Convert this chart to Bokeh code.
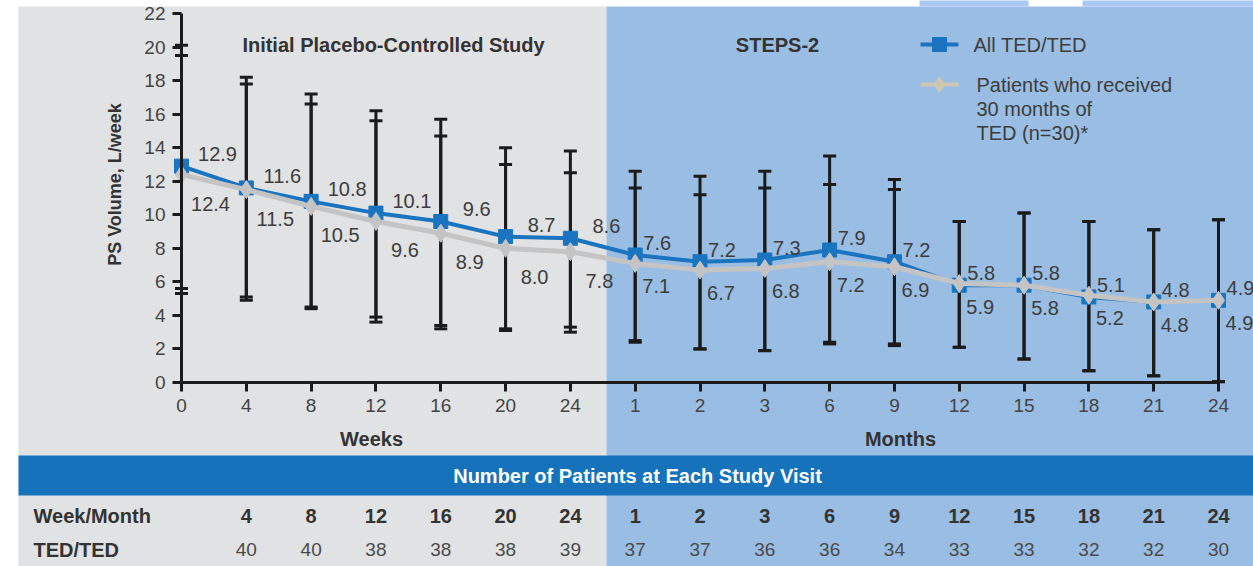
import math
from bokeh.plotting import figure
from bokeh.models import Range1d, LinearAxis, FixedTicker, ColumnDataSource
from bokeh.core.properties import value
from bokeh.embed import file_html
from bokeh.resources import INLINE

# ---------------- data ----------------
time_labels = ["0", "4", "8", "12", "16", "20", "24",
               "1", "2", "3", "6", "9", "12", "15", "18", "21", "24"]
n_weeks = 7  # first 7 visits are in weeks, the rest in months

all_ted_mean = [12.9, 11.6, 10.8, 10.1, 9.6, 8.7, 8.6, 7.6, 7.2, 7.3, 7.9, 7.2, 5.8, 5.8, 5.1, 4.8, 4.9]
all_ted_upper = [20.1, 18.2, 17.2, 16.2, 15.7, 14.0, 13.8, 12.6, 12.3, 12.6, 13.5, 12.1, 9.6, 10.1, 9.6, 9.1, 9.7]
all_ted_lower = [5.6, 5.1, 4.5, 3.9, 3.4, 3.2, 3.3, 2.4, 2.0, 1.9, 2.4, 2.2, 2.1, 1.4, 0.7, 0.4, 0.05]

n30_mean = [12.4, 11.5, 10.5, 9.6, 8.9, 8.0, 7.8, 7.1, 6.7, 6.8, 7.2, 6.9, 5.9, 5.8, 5.2, 4.8, 4.9]
n30_upper = [19.5, 17.8, 16.6, 15.6, 14.7, 13.0, 12.5, 11.6, 11.2, 11.6, 11.8, 11.5, 9.6, 10.1, 9.6, 9.1, 9.7]
n30_lower = [5.3, 4.9, 4.4, 3.6, 3.2, 3.1, 3.0, 2.5, 2.0, 1.9, 2.3, 2.3, 2.1, 1.4, 0.7, 0.4, 0.05]

y_ticks = list(range(0, 23, 2))
y_title = "PS Volume, L/week"

visit_labels = ["4", "8", "12", "16", "20", "24", "1", "2", "3", "6", "9", "12", "15", "18", "21", "24"]
patients_ted = [40, 40, 38, 38, 38, 39, 37, 37, 36, 36, 34, 33, 33, 32, 32, 30]

series_names = ["All TED/TED", "Patients who received\n30 months of\nTED (n=30)*"]

# ---------------- layout helpers (page pixel -> data) ----------------
FONT = "Liberation Sans"
W, H = 1253, 566
KX = (1218 - 181) / 16.0
X0 = 181.0
KY = 369 / 22.0
Y0 = 382.0


def dx(px):
    return (px - X0) / KX


def dy(py):
    return (Y0 - py) / KY


GREY_BG = "#e1e2e4"
BLUE_BG = "#99bde3"
BANNER = "#1572bb"
BLUE = "#1b74bf"
LGREY = "#c4c4c4"
AX = "#1b1b1b"
TXT = "#3d3d3d"

x = list(range(len(time_labels)))

p = figure(width=W, height=H,
           x_range=Range1d(dx(0), dx(W)), y_range=Range1d(dy(H), dy(0)),
           output_backend="svg", toolbar_location=None, min_border=0,
           x_axis_type=None, y_axis_type=None)
p.outline_line_color = None
p.background_fill_color = "white"
p.border_fill_color = "white"

# panels
split = dx(606)
p.quad(left=[dx(18)], right=[split], top=[dy(6)], bottom=[dy(H + 20)],
       fill_color=GREY_BG, line_color=None)
p.quad(left=[split], right=[dx(W + 20)], top=[dy(6)], bottom=[dy(H + 20)],
       fill_color=BLUE_BG, line_color=None)
p.quad(left=[dx(919), dx(1082)], right=[dx(1028), dx(W + 20)], top=[dy(-5)] * 2,
       bottom=[dy(6)] * 2, fill_color="#a9c9f2", line_color=None)

# axes
yax = LinearAxis(fixed_location=0, bounds=(0, 22), ticker=FixedTicker(ticks=y_ticks))
xax = LinearAxis(fixed_location=0, bounds=(0, len(x) - 1), ticker=FixedTicker(ticks=x),
                 major_label_overrides={i: lbl for i, lbl in enumerate(time_labels)})
for ax in (yax, xax):
    ax.axis_line_width = 3
    ax.axis_line_color = AX
    ax.major_tick_line_width = 3
    ax.major_tick_line_color = AX
    ax.major_tick_in = 0
    ax.major_tick_out = 9
    ax.minor_tick_line_color = None
    ax.major_label_text_font = FONT
    ax.major_label_text_font_size = "19px"
    ax.major_label_text_color = "#444444"
    ax.major_label_standoff = 7
p.add_layout(yax, "left")
p.add_layout(xax, "below")

# y-axis title (rotated)
p.text(x=[dx(114)], y=[dy(184)], text=[y_title], angle=math.pi / 2,
       text_align="center", text_baseline="middle", text_font=value(FONT),
       text_font_size="18px", text_font_style="bold", text_color="#333333")

# error bars
for up, lo in ((all_ted_upper, all_ted_lower), (n30_upper, n30_lower)):
    p.segment(x0=x, y0=lo, x1=x, y1=up, line_width=3, line_color=AX)
    p.scatter(x=x + x, y=up + lo, marker="dash", size=13, line_width=3, line_color=AX)

# series
p.line(x, all_ted_mean, line_color=BLUE, line_width=4)
p.scatter(x, all_ted_mean, marker="square", size=14, fill_color=BLUE, line_color=BLUE)
p.line(x, n30_mean, line_color=LGREY, line_width=5)
p.scatter(x, n30_mean, marker="diamond", size=18, fill_color=LGREY, line_color=LGREY)

# value labels
in_weeks = [i < n_weeks for i in x]
src_a = ColumnDataSource(dict(
    x=x, y=all_ted_mean, t=[f"{v:.1f}" for v in all_ted_mean],
    xo=[36 if w else 22 for w in in_weeks], yo=[-12] * len(x)))
src_b = ColumnDataSource(dict(
    x=x, y=n30_mean, t=[f"{v:.1f}" for v in n30_mean],
    xo=[29 if w else 21 for w in in_weeks], yo=[29 if w else 23 for w in in_weeks]))
for src in (src_a, src_b):
    p.text(x="x", y="y", text="t", x_offset="xo", y_offset="yo", source=src,
           text_align="center", text_baseline="middle",
           text_font=value(FONT), text_font_size="20px", text_color=TXT)

# panel titles and axis captions
p.text(x=[dx(393), dx(777)], y=[dy(44), dy(44)],
       text=["Initial Placebo-Controlled Study", "STEPS-2"],
       text_align="center", text_baseline="middle", text_font=value(FONT),
       text_font_size="20px", text_font_style="bold", text_color="#333333")
p.text(x=[dx(371), dx(900)], y=[dy(438), dy(438)], text=["Weeks", "Months"],
       text_align="center", text_baseline="middle", text_font=value(FONT),
       text_font_size="20px", text_font_style="bold", text_color="#333333")

# legend (drawn by hand)
lx0, lx1, lxm = dx(920), dx(958), dx(939)
p.line([lx0, lx1], [dy(44)] * 2, line_color=BLUE, line_width=4)
p.scatter([lxm], [dy(44)], marker="square", size=14, fill_color=BLUE, line_color=BLUE)
p.line([lx0, lx1], [dy(84)] * 2, line_color="#cdc6b2", line_width=4)
p.scatter([lxm], [dy(84)], marker="diamond", size=16, fill_color="#cdc6b2", line_color="#cdc6b2")
p.text(x=[dx(973)], y=[dy(44)], text=[series_names[0]], text_align="left",
       text_baseline="middle", text_font=value(FONT), text_font_size="20px", text_color=TXT)
leg_lines = series_names[1].split("\n")
p.text(x=[dx(976)] * len(leg_lines), y=[dy(84 + 24 * k) for k in range(len(leg_lines))],
       text=leg_lines, text_align="left", text_baseline="middle",
       text_font=value(FONT), text_font_size="20px", text_color=TXT)

# patient table
p.quad(left=[dx(18)], right=[dx(W + 20)], top=[dy(455)], bottom=[dy(495)],
       fill_color=BANNER, line_color=None)
p.text(x=[dx(637)], y=[dy(475)], text=["Number of Patients at Each Study Visit"],
       text_align="center", text_baseline="middle", text_font=value(FONT),
       text_font_size="20px", text_font_style="bold", text_color="white")
p.text(x=[dx(33), dx(33)], y=[dy(515), dy(549)], text=["Week/Month", "TED/TED"],
       text_align="left", text_baseline="middle", text_font=value(FONT),
       text_font_size="20px", text_font_style="bold", text_color="#333333")
p.text(x=x[1:], y=[dy(515)] * len(visit_labels), text=visit_labels,
       text_align="center", text_baseline="middle", text_font=value(FONT),
       text_font_size="20px", text_font_style="bold", text_color="#333333")
p.text(x=x[1:], y=[dy(549)] * len(patients_ted), text=[str(n) for n in patients_ted],
       text_align="center", text_baseline="middle", text_font=value(FONT),
       text_font_size="19px", text_color="#4a4a4a")

open("out.html", "w").write(file_html(p, INLINE))
